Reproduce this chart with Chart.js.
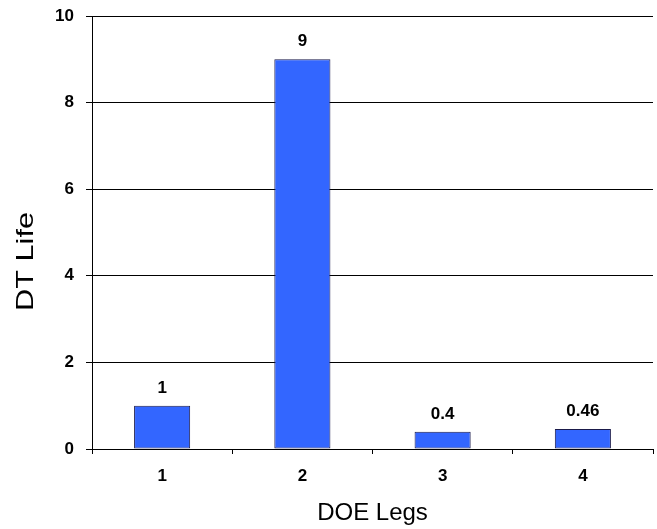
<!DOCTYPE html>
<html>
<head>
<meta charset="utf-8">
<title>DT Life by DOE Leg</title>
<script src="https://cdn.jsdelivr.net/npm/chart.js@4/dist/chart.umd.min.js"></script>
<style>
  html, body { margin: 0; padding: 0; background: #ffffff; }
  #wrap { width: 657px; height: 529px; }
</style>
</head>
<body>
<div id="wrap"><canvas id="chart" width="657" height="529"></canvas></div>
<script>
// DOE legs and their DT life values
const legs = ['1', '2', '3', '4'];
const dtLife = [1, 9, 0.4, 0.46];
const dtLifeLabels = ['1', '9', '0.4', '0.46'];

const yMin = 0;
const yMax = 10;
const yStep = 2;

const xTitle = 'DOE Legs';
const yTitle = 'DT Life';

const FONT = '"Liberation Sans", Arial, Helvetica, sans-serif';

// value labels printed above each bar
const barValueLabels = {
  id: 'barValueLabels',
  afterDatasetsDraw(chart) {
    const { ctx } = chart;
    const meta = chart.getDatasetMeta(0);
    ctx.save();
    ctx.font = 'bold 17px ' + FONT;
    ctx.fillStyle = '#000000';
    ctx.textAlign = 'center';
    ctx.textBaseline = 'alphabetic';
    meta.data.forEach((bar, i) => {
      ctx.fillText(dtLifeLabels[i], bar.x, bar.y - 13);
    });
    ctx.restore();
  }
};

// vertical axis title, set a little below the plot's middle and drawn wide
const yAxisTitle = {
  id: 'yAxisTitle',
  afterDraw(chart) {
    const { ctx, chartArea } = chart;
    const cy = (chartArea.top + chartArea.bottom) / 2 + 29;
    ctx.save();
    ctx.translate(26, cy);
    ctx.rotate(-Math.PI / 2);
    ctx.scale(1.28, 1);
    ctx.font = '24px ' + FONT;
    ctx.fillStyle = '#000000';
    ctx.textAlign = 'center';
    ctx.textBaseline = 'middle';
    ctx.fillText(yTitle, 0, 0);
    ctx.restore();
  }
};

new Chart(document.getElementById('chart'), {
  type: 'bar',
  data: {
    labels: legs,
    datasets: [{
      data: dtLife,
      backgroundColor: '#3366FF',
      borderColor: '#1a1a4a',
      borderWidth: 1,
      borderSkipped: false,
      barPercentage: 0.4,
      categoryPercentage: 1.0
    }]
  },
  options: {
    responsive: false,
    animation: false,
    devicePixelRatio: 1,
    layout: { padding: { top: 16, right: 4, left: 0, bottom: 0 } },
    plugins: {
      legend: { display: false },
      tooltip: { enabled: false }
    },
    scales: {
      x: {
        grid: {
          offset: true,
          drawOnChartArea: true,
          color: (c) => (c.index === legs.length ? '#808080' : 'rgba(0,0,0,0)'),
          tickColor: '#000000',
          tickLength: 5,
          lineWidth: 1
        },
        border: { display: true, color: '#000000', width: 1 },
        ticks: {
          color: '#000000',
          font: { family: FONT, size: 17, weight: 'bold' },
          padding: 12
        },
        title: {
          display: true,
          text: xTitle,
          color: '#000000',
          font: { family: FONT, size: 24, weight: 'normal' },
          padding: { top: 0, bottom: 1 }
        },
        afterFit(scale) {
          scale.height = 80;
          scale.paddingLeft = 0;
          scale.paddingRight = 0;
        }
      },
      y: {
        min: yMin,
        max: yMax,
        ticks: {
          stepSize: yStep,
          color: '#000000',
          font: { family: FONT, size: 17, weight: 'bold' },
          padding: 12
        },
        grid: {
          color: '#000000',
          tickColor: '#000000',
          tickLength: 6,
          lineWidth: 1
        },
        border: { display: true, color: '#000000', width: 1 },
        afterFit(scale) {
          scale.width = 92;
          scale.paddingTop = 0;
          scale.paddingBottom = 0;
        }
      }
    }
  },
  plugins: [barValueLabels, yAxisTitle]
});
</script>
</body>
</html>
